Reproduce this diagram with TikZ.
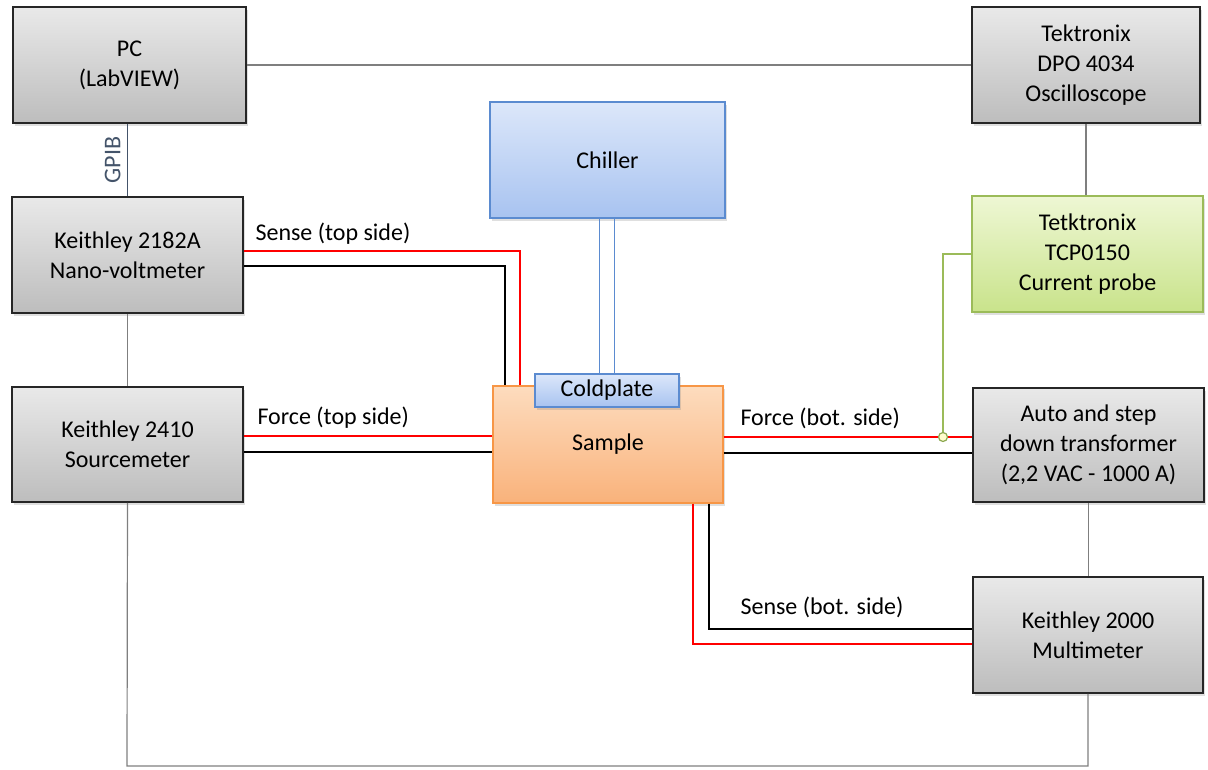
\documentclass[tikz,border=0pt]{standalone}
\usepackage{fontspec}
\setmainfont{Carlito}
\usetikzlibrary{shadows,calc}
\definecolor{wgray}{HTML}{7F7F7F}
\definecolor{gpib}{HTML}{44546A}
\definecolor{wred}{HTML}{FF0000}
\definecolor{bluebd}{HTML}{5B8BD0}
\definecolor{orgbd}{HTML}{F79646}
\definecolor{grnbd}{HTML}{9BBB59}
\definecolor{gtop}{HTML}{E9E9E9}
\definecolor{gbot}{HTML}{BDBDBD}
\definecolor{btop}{HTML}{DCE7FA}
\definecolor{bbot}{HTML}{A8C3F0}
\definecolor{otop}{HTML}{FDDCBE}
\definecolor{obot}{HTML}{F9B27B}
\definecolor{ltop}{HTML}{EEF7D4}
\definecolor{lbot}{HTML}{C9E38B}
\tikzset{
  box/.style={draw, rectangle, align=center, font=\fontsize{24}{30}\selectfont,
    text=black, drop shadow={opacity=0.25, shadow xshift=2pt, shadow yshift=-3pt}},
  graybox/.style={box, line width=1.8pt, draw=black!85, top color=gtop, bottom color=gbot},
  bluebox/.style={box, line width=1.3pt, draw=bluebd, top color=btop, bottom color=bbot},
  orgbox/.style={box, line width=1.3pt, draw=orgbd, top color=otop, bottom color=obot},
  grnbox/.style={box, line width=1.3pt, draw=grnbd, top color=ltop, bottom color=lbot},
  gline/.style={draw=wgray, line width=1.2pt},
  rline/.style={draw=wred, line width=1.5pt},
  kline/.style={draw=black, line width=1.5pt},
  lbl/.style={font=\fontsize{24}{28}\selectfont, text=black, anchor=west},
}
\begin{document}
\begin{tikzpicture}[x=1pt,y=-1pt]
\useasboundingbox (0,0) rectangle (1208,769);
% boxes
\node[graybox, minimum width=233pt, minimum height=116pt] (pc) at (129.5,65) {PC\\(LabVIEW)};
\node[graybox, minimum width=231pt, minimum height=116pt] (nv) at (127.5,255) {Keithley 2182A\\Nano-voltmeter};
\node[graybox, minimum width=231pt, minimum height=115pt] (sm) at (127.5,444.5) {Keithley 2410\\Sourcemeter};
\node[bluebox, minimum width=235pt, minimum height=116pt] (ch) at (607.5,160) {Chiller};
\node[orgbox, minimum width=230pt, minimum height=117pt] (sa) at (608,444.5) {Sample};
\node[bluebox, minimum width=144pt, minimum height=33pt, inner sep=0pt] (cp) at (607,390.5) {Coldplate};
\node[graybox, minimum width=228pt, minimum height=116pt] (osc) at (1086,65) {Tektronix\\DPO 4034\\Oscilloscope};
\node[grnbox, minimum width=231pt, minimum height=116pt] (pr) at (1087.5,254) {Tetktronix\\TCP0150\\Current probe};
\node[graybox, minimum width=231pt, minimum height=114pt] (tr) at (1088.5,445) {Auto and step\\down transformer\\(2,2 VAC - 1000 A)};
\node[graybox, minimum width=230pt, minimum height=116pt] (mm) at (1088,635) {Keithley 2000\\Multimeter};

% gray connectors
\draw[gline] (pc.east) -- (osc.west |- pc.east);
\draw[gline] (osc.south) -- (osc.south |- pr.north);
\draw[draw=gpib, line width=1.2pt] (nv.north |- pc.south) -- (nv.north)
  node[midway, left=3pt, rotate=90, anchor=south, font=\fontsize{24}{28}\selectfont, text=gpib] {GPIB};
\draw[gline] (nv.south) -- (sm.north);
\draw[gline] (tr.south) -- (tr.south |- mm.north);
\coordinate (bl) at (127,766);
\draw[gline] (mm.south) |- (bl) -- (sm.south);

% chiller pipes
\draw[draw=bluebd, line width=1.3pt] ([xshift=-8pt]ch.south) -- ([xshift=-8pt]ch.south |- cp.north);
\draw[draw=bluebd, line width=1.3pt] ([xshift=7pt]ch.south) -- ([xshift=7pt]ch.south |- cp.north);

% sense top side
\coordinate (str) at ([yshift=4pt]nv.east);
\coordinate (stk) at ([yshift=-11pt]nv.east);
\draw[rline] (str) -| ([xshift=-88pt]sa.north);
\draw[kline] (stk) -| ([xshift=-103pt]sa.north);
\node[lbl] (lst) at (252,234) {Sense (top side)};

% force top side
\draw[rline] ([yshift=8.5pt]sm.east) -- ([yshift=8.5pt]sa.west);
\draw[kline] ([yshift=-7.5pt]sm.east) -- ([yshift=-7.5pt]sa.west);
\node[lbl] (lft) at (254,418) {Force (top side)};

% force bottom side
\coordinate (fbr) at ([yshift=7.5pt]sa.east);
\coordinate (fbk) at ([yshift=-8.5pt]sa.east);
\draw[rline] (fbr) -- (fbr -| tr.west);
\draw[kline] (fbk) -- (fbk -| tr.west);
\node[lbl] (lfb) at (737,418) {Force (bot. side)};

% current probe clamp
\node[circle, draw=grnbd!90!black, fill=yellow!20, line width=1.2pt, minimum size=9pt, inner sep=0pt] (clamp) at (943,437) {};
\draw[draw=grnbd, line width=1.2pt] (pr.west) -| (clamp.north);

% sense bottom side
\draw[rline] ([xshift=85pt]sa.south) |- ([yshift=-9pt]mm.west);
\draw[kline] ([xshift=101pt]sa.south) |- ([yshift=6pt]mm.west);
\node[lbl] (lsb) at (737,607) {Sense (bot. side)};
\end{tikzpicture}
\end{document}
